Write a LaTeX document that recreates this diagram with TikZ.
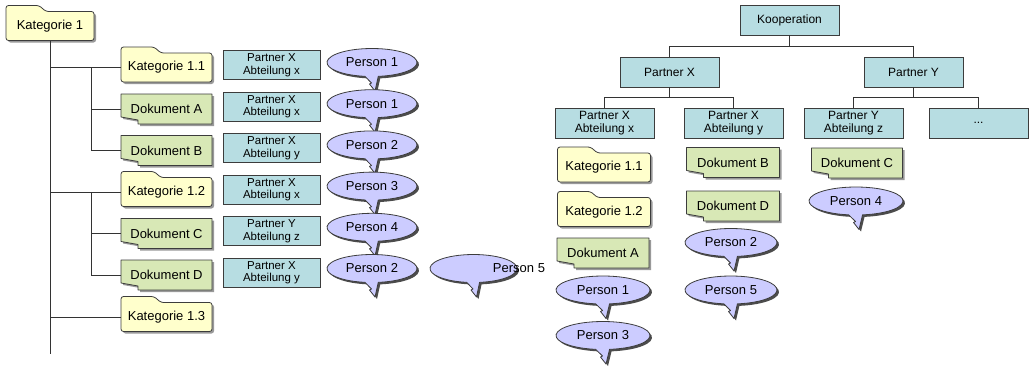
\documentclass[tikz,border=0pt]{standalone}
\usepackage{fontspec}
\setmainfont{Liberation Sans}
\usetikzlibrary{calc}

\definecolor{folderfill}{RGB}{255,255,204}
\definecolor{docfill}{RGB}{216,232,182}
\definecolor{boxfill}{RGB}{183,221,226}
\definecolor{bubblefill}{RGB}{204,204,255}
\definecolor{edge}{RGB}{60,60,60}

\tikzset{
  shapeline/.style={draw=edge, line width=0.8pt, line join=round},
  dropshade/.style={preaction={fill=#1, transform canvas={shift={(2pt,-2pt)}}}},
  folder/.style={shapeline, fill=folderfill, rounded corners=2.5pt, dropshade=black!40},
  document/.style={shapeline, fill=docfill, dropshade=black!40},
  bubble/.style={shapeline, fill=bubblefill, dropshade=black!70},
  label13/.style={font=\fontsize{13}{15}\selectfont, inner sep=0pt},
  unitbox/.style={draw=edge, line width=0.8pt, fill=boxfill, align=center, inner sep=0pt},
  smallunit/.style={unitbox, minimum width=97pt, minimum height=29pt, font=\fontsize{11.5}{12.5}\selectfont},
  bigunit/.style={unitbox, minimum width=99pt, minimum height=30pt, font=\fontsize{12}{13}\selectfont},
  treeline/.style={draw=black!80, line width=0.9pt},
}

% folder: name, x, y, width, text
\newcommand\katnode[5]{%
  \begin{scope}[shift={(#2,#3)}]
    \pgfmathsetmacro\hw{#4/2}
    \filldraw[folder] (-\hw,14.5) -- (-\hw,-20.5) -- ({-\hw+33},-20.5) -- ({-\hw+40},-14.5)
      -- (\hw,-14.5) -- (\hw,14.5) -- cycle;
    \node[label13, minimum width=#4pt, minimum height=29pt] (#1) at (0,0) {#5};
  \end{scope}}

% document with folded corner: name, x, y, width, text
\newcommand\docnode[5]{%
  \begin{scope}[shift={(#2,#3)}]
    \pgfmathsetmacro\hw{#4/2}
    \filldraw[document] (-\hw,-15) -- (\hw,-15) -- (\hw,15) -- ({-\hw+17},15)
      -- ({-\hw+17},11) -- (-\hw,8) -- cycle;
    \node[label13, minimum width=#4pt, minimum height=30pt] (#1) at (0,0) {#5};
  \end{scope}}

% speech bubble: name, x, y, x radius, text
\newcommand\speech[5]{%
  \begin{scope}[shift={(#2,#3)}]
    \filldraw[bubble] ({#4*cos(82)},{14*sin(82)})
      arc[start angle=82, end angle=-261, x radius=#4, y radius=14]
      -- (-0.5,20.5) -- (-2.5,21.5) -- (3,28.5) -- cycle;
    \node[label13] (#1) at (0,0) {#5};
  \end{scope}}

\begin{document}
\begin{tikzpicture}[x=1pt, y=-1pt]
\useasboundingbox (0,0) rectangle (1032,367);

% ---------- category tree ----------
\katnode{k1}{50}{26}{88}{Kategorie 1}
\katnode{k11}{166.5}{67.5}{91}{Kategorie 1.1}
\docnode{dA}{166.5}{109}{91}{Dokument A}
\docnode{dB}{166.5}{150.5}{91}{Dokument B}
\katnode{k12}{166.5}{192}{91}{Kategorie 1.2}
\docnode{dC}{166.5}{233.5}{91}{Dokument C}
\docnode{dD}{166.5}{275}{91}{Dokument D}
\katnode{k13}{166.5}{317}{91}{Kategorie 1.3}

\coordinate (trunkend) at (50,354);
\coordinate (sub) at (91,0);
\draw[treeline] (k1.south) -- (trunkend);
\draw[treeline] (k1.south |- k11.west) -- (k11.west);
\draw[treeline] (k1.south |- k12.west) -- (k12.west);
\draw[treeline] (k1.south |- k13.west) -- (k13.west);
\draw[treeline] (sub |- k11.west) -- (sub |- dB.west) -- (dB.west);
\draw[treeline] (sub |- dA.west) -- (dA.west);
\draw[treeline] (sub |- k12.west) -- (sub |- dD.west) -- (dD.west);
\draw[treeline] (sub |- dC.west) -- (dC.west);

% departments
\node[smallunit] (u1) at (271.5,65)    {Partner X\\Abteilung x};
\node[smallunit] (u2) at (271.5,106.5) {Partner X\\Abteilung x};
\node[smallunit] (u3) at (271.5,148)   {Partner X\\Abteilung y};
\node[smallunit] (u4) at (271.5,189.5) {Partner X\\Abteilung x};
\node[smallunit] (u5) at (271.5,231)   {Partner Y\\Abteilung z};
\node[smallunit] (u6) at (271.5,272.5) {Partner X\\Abteilung y};

% persons
\speech{s1}{372}{62.5}{45}{Person 1}
\speech{s2}{372}{103.7}{45}{Person 1}
\speech{s3}{372}{144.9}{45}{Person 2}
\speech{s4}{372}{186.1}{45}{Person 3}
\speech{s5}{372}{227.3}{45}{Person 4}
\speech{s6}{372}{268.5}{45}{Person 2}
\speech{s7}{473.5}{268.5}{43.5}{}
\node[label13] (s7text) at (519,268.5) {Person 5};

% ---------- cooperation tree ----------
\node[bigunit] (koop) at (789.5,20)  {Kooperation};
\node[bigunit] (px)   at (669.5,72)  {Partner X};
\node[bigunit] (py)   at (913.5,72)  {Partner Y};
\node[bigunit] (pxa)  at (604.5,123) {Partner X\\Abteilung x};
\node[bigunit] (pxb)  at (733.5,123) {Partner X\\Abteilung y};
\node[bigunit] (pyz)  at (853.5,123) {Partner Y\\Abteilung z};
\node[bigunit] (more) at (978.5,123) {...};

\draw[treeline] (koop.south) -- ++(0,11) -| (px.north);
\draw[treeline] (koop.south) -- ++(0,11) -| (py.north);
\draw[treeline] (px.south) -- ++(0,10.5) -| (pxa.north);
\draw[treeline] (px.south) -- ++(0,10.5) -| (pxb.north);
\draw[treeline] (py.south) -- ++(0,10.5) -| (pyz.north);
\draw[treeline] (py.south) -- ++(0,10.5) -| (more.north);

\katnode{rk11}{604}{167.5}{93}{Kategorie 1.1}
\katnode{rk12}{604}{212}{93}{Kategorie 1.2}
\docnode{rdA}{603}{253}{92}{Dokument A}
\speech{rp1}{603}{290}{47}{Person 1}
\speech{rp3}{603}{335.5}{47}{Person 3}

\docnode{rdB}{733}{162.5}{93}{Dokument B}
\docnode{rdD}{733}{206}{93}{Dokument D}
\speech{rp2}{731}{242.5}{46}{Person 2}
\speech{rp5}{731}{290}{46}{Person 5}

\docnode{rdC}{857}{163}{91}{Dokument C}
\speech{rp4}{856}{201}{47}{Person 4}
\end{tikzpicture}
\end{document}
